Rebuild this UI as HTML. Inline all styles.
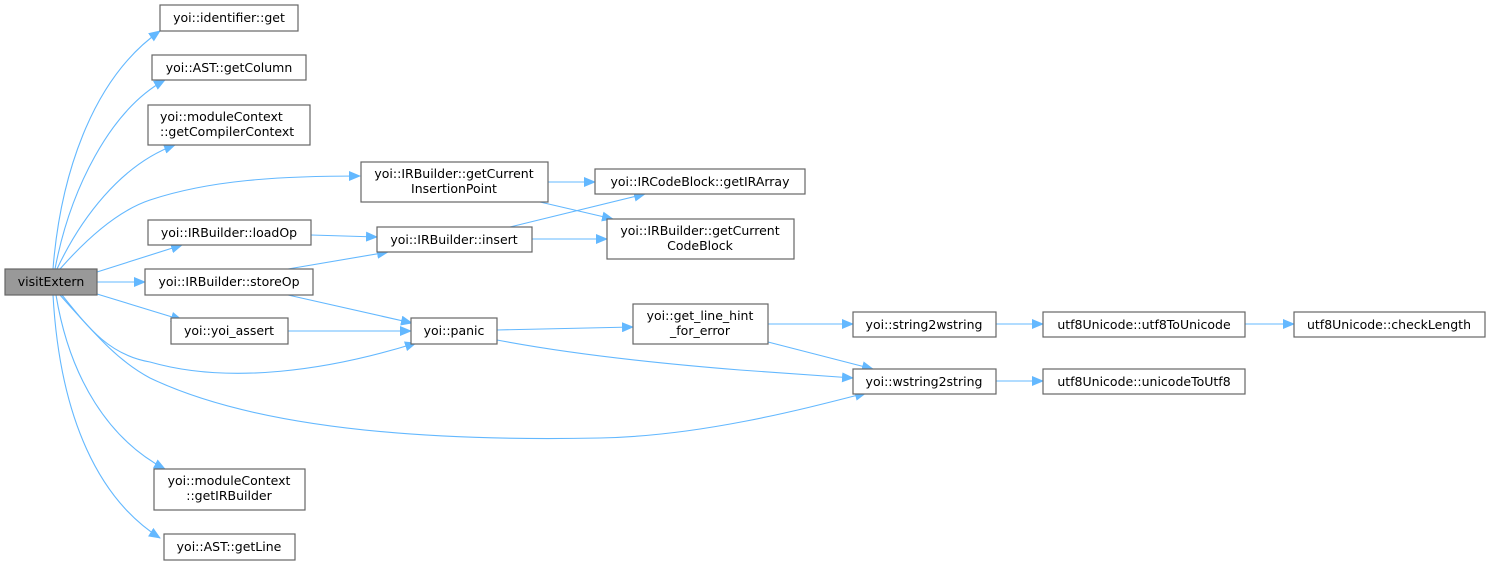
<!DOCTYPE html>
<html><head><meta charset="utf-8"><style>
html,body{margin:0;padding:0;background:#fff;}
svg{display:block;}
text{font-family:"DejaVu Sans","Liberation Sans",sans-serif;font-size:12.5px;fill:#000;}
.n{fill:#fff;stroke:#666;stroke-width:1.2;}
.e{fill:none;stroke:#63b8ff;stroke-width:1.1;}
</style></head><body>
<svg width="1491" height="565" viewBox="0 0 1491 565" xmlns="http://www.w3.org/2000/svg">
<defs><marker id="a" markerWidth="12" markerHeight="10" refX="11" refY="5" orient="auto" markerUnits="userSpaceOnUse"><path d="M0,0 L12,5 L0,10 z" fill="#63b8ff"/></marker></defs>
<g class="edges">
<path class="e" marker-end="url(#a)" d="M53,269 C60,180 90,80 160,31"/>
<path class="e" marker-end="url(#a)" d="M55,269 C70,190 110,110 165,80"/>
<path class="e" marker-end="url(#a)" d="M57,269 C80,220 120,165 175,145"/>
<path class="e" marker-end="url(#a)" d="M60,269 C90,235 120,210 150,200 C210,180 280,176 360,176"/>
<path class="e" marker-end="url(#a)" d="M97,272 L182,245"/>
<path class="e" marker-end="url(#a)" d="M97,282 L145,282"/>
<path class="e" marker-end="url(#a)" d="M97,294 L182,320"/>
<path class="e" marker-end="url(#a)" d="M62,295 C90,330 110,355 150,362 C230,385 330,370 416,343"/>
<path class="e" marker-end="url(#a)" d="M60,295 C100,340 120,362 150,378 C280,440 500,440 600,438 C700,436 800,410 866,393"/>
<path class="e" marker-end="url(#a)" d="M56,295 C70,380 110,440 165,469"/>
<path class="e" marker-end="url(#a)" d="M53,295 C60,420 100,500 160,538"/>
<path class="e" marker-end="url(#a)" d="M311,235 L377,237"/>
<path class="e" marker-end="url(#a)" d="M288,269 L388,252"/>
<path class="e" marker-end="url(#a)" d="M288,295 L412,323"/>
<path class="e" marker-end="url(#a)" d="M288,331 L411,331"/>
<path class="e" marker-end="url(#a)" d="M548,182 L595,182"/>
<path class="e" marker-end="url(#a)" d="M540,202 L613,219"/>
<path class="e" marker-end="url(#a)" d="M510,227 L645,194"/>
<path class="e" marker-end="url(#a)" d="M532,239 L607,239"/>
<path class="e" marker-end="url(#a)" d="M497,330 L633,327"/>
<path class="e" marker-end="url(#a)" d="M497,340 C560,352 640,362 740,370 C780,373 820,376 853,378"/>
<path class="e" marker-end="url(#a)" d="M768,324 L853,324"/>
<path class="e" marker-end="url(#a)" d="M768,342 L873,369"/>
<path class="e" marker-end="url(#a)" d="M996,324 L1043,324"/>
<path class="e" marker-end="url(#a)" d="M996,381 L1043,381"/>
<path class="e" marker-end="url(#a)" d="M1245,324 L1294,324"/>
</g>
<g>
<rect x="5" y="269" width="92" height="26" fill="#999" stroke="#666" stroke-width="1.2"/>
<text x="51" y="286" text-anchor="middle">visitExtern</text>

<rect class="n" x="160" y="5" width="138" height="26"/><text x="229" y="22" text-anchor="middle">yoi::identifier::get</text>
<rect class="n" x="152" y="55" width="154" height="25"/><text x="229" y="72" text-anchor="middle">yoi::AST::getColumn</text>
<rect class="n" x="148" y="105" width="162" height="40"/><text x="160" y="121">yoi::moduleContext</text><text x="160" y="136">::getCompilerContext</text>
<rect class="n" x="361" y="162" width="187" height="40"/><text x="454" y="178" text-anchor="middle">yoi::IRBuilder::getCurrent</text><text x="454" y="193" text-anchor="middle">InsertionPoint</text>
<rect class="n" x="148" y="220" width="163" height="25"/><text x="229" y="237" text-anchor="middle">yoi::IRBuilder::loadOp</text>
<rect class="n" x="145" y="269" width="168" height="26"/><text x="229" y="286" text-anchor="middle">yoi::IRBuilder::storeOp</text>
<rect class="n" x="377" y="227" width="155" height="25"/><text x="454" y="244" text-anchor="middle">yoi::IRBuilder::insert</text>
<rect class="n" x="171" y="318" width="117" height="26"/><text x="229" y="335" text-anchor="middle">yoi::yoi_assert</text>
<rect class="n" x="411" y="318" width="86" height="26"/><text x="454" y="335" text-anchor="middle">yoi::panic</text>
<rect class="n" x="154" y="469" width="151" height="41"/><text x="229" y="485" text-anchor="middle">yoi::moduleContext</text><text x="229" y="500" text-anchor="middle">::getIRBuilder</text>
<rect class="n" x="164" y="534" width="131" height="26"/><text x="229" y="551" text-anchor="middle">yoi::AST::getLine</text>

<rect class="n" x="595" y="169" width="210" height="25"/><text x="700" y="186" text-anchor="middle">yoi::IRCodeBlock::getIRArray</text>
<rect class="n" x="607" y="219" width="187" height="40"/><text x="700" y="235" text-anchor="middle">yoi::IRBuilder::getCurrent</text><text x="700" y="250" text-anchor="middle">CodeBlock</text>
<rect class="n" x="633" y="304" width="135" height="40"/><text x="700" y="320" text-anchor="middle">yoi::get_line_hint</text><text x="700" y="335" text-anchor="middle">_for_error</text>
<rect class="n" x="853" y="312" width="143" height="25"/><text x="924" y="329" text-anchor="middle">yoi::string2wstring</text>
<rect class="n" x="853" y="369" width="143" height="25"/><text x="924" y="386" text-anchor="middle">yoi::wstring2string</text>
<rect class="n" x="1043" y="312" width="202" height="25"/><text x="1144" y="329" text-anchor="middle">utf8Unicode::utf8ToUnicode</text>
<rect class="n" x="1043" y="369" width="202" height="25"/><text x="1144" y="386" text-anchor="middle">utf8Unicode::unicodeToUtf8</text>
<rect class="n" x="1294" y="312" width="191" height="25"/><text x="1389" y="329" text-anchor="middle">utf8Unicode::checkLength</text>
</g>
</svg>
</body></html>
